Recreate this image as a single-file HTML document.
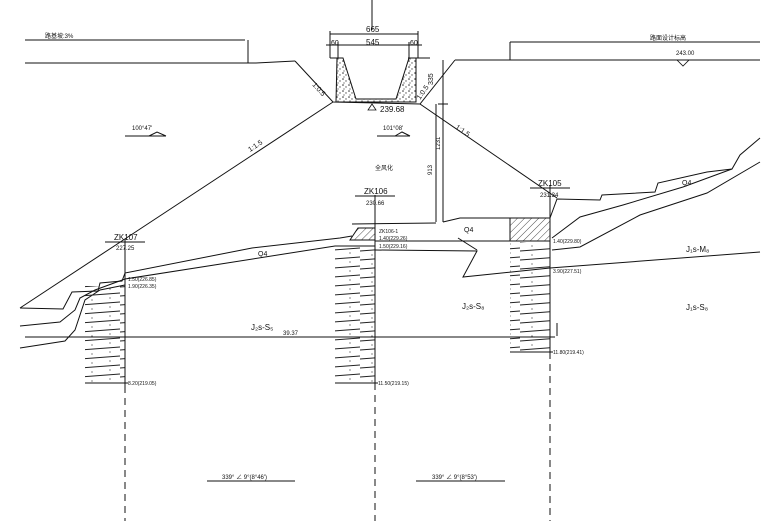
<!DOCTYPE html>
<html><head><meta charset="utf-8"><style>html,body{margin:0;padding:0;background:#fff}svg{display:block}</style></head>
<body>
<svg width="780" height="521" viewBox="0 0 780 521" xmlns="http://www.w3.org/2000/svg" font-family="Liberation Sans, 'Noto Sans CJK SC', sans-serif">
<defs>
<pattern id="sp" width="6" height="6" patternUnits="userSpaceOnUse"><rect width="6" height="6" fill="#fff"/><circle cx="1" cy="1" r="0.8" fill="#333"/><circle cx="4" cy="3" r="0.7" fill="#555"/><circle cx="2" cy="5" r="0.6" fill="#444"/></pattern>
<pattern id="dh" width="5" height="5" patternUnits="userSpaceOnUse" patternTransform="rotate(45)"><line x1="0" y1="0" x2="0" y2="5" stroke="#222" stroke-width="0.8"/></pattern>
<pattern id="bh" width="40" height="9" patternUnits="userSpaceOnUse"><line x1="0" y1="8" x2="40" y2="5" stroke="#222" stroke-width="0.9"/><circle cx="12" cy="3" r="0.6" fill="#333"/><circle cx="30" cy="1" r="0.6" fill="#333"/></pattern>
</defs>
<g stroke="#111" stroke-width="1" fill="none">
<!-- roads -->
<line x1="25" y1="40" x2="245" y2="40"/><line x1="248" y1="40" x2="248" y2="63"/>
<polyline points="25,63 256,63 295,61"/>
<line x1="510" y1="42" x2="760" y2="42"/><line x1="510" y1="42" x2="510" y2="60"/>
<polyline points="455,60 760,60"/>
<polygon points="677,60 689,60 683,66" stroke-width="0.8"/>
<!-- channel -->
<polyline points="295,61 333,102 420,104 455,60"/>
<line x1="330" y1="58" x2="340" y2="58"/><line x1="408" y1="58" x2="430" y2="58"/>
<polygon points="337,58 343,58 356,99 396,99 409,58 416,58 416,102 336,102" fill="url(#sp)"/>
<line x1="372" y1="0" x2="372" y2="30"/>
<line x1="330" y1="34" x2="418" y2="34"/><line x1="330" y1="31" x2="330" y2="58"/><line x1="418" y1="31" x2="418" y2="58"/>
<line x1="326" y1="45" x2="422" y2="45"/><line x1="338" y1="42" x2="338" y2="58"/><line x1="409" y1="42" x2="409" y2="58"/>
<polygon points="372,104 368,110 376,110" stroke-width="0.8"/>
<!-- big slopes -->
<line x1="333" y1="102" x2="20" y2="308"/>
<line x1="420" y1="104" x2="557" y2="198"/>
<line x1="443" y1="60" x2="443" y2="222"/><line x1="436" y1="104" x2="436" y2="222"/>
<line x1="438" y1="104" x2="448" y2="104"/>
<!-- arrows labels -->
<line x1="125" y1="136" x2="166" y2="136"/><polyline points="149,136 157,132 166,136"/>
<line x1="377" y1="136" x2="410" y2="136"/><polyline points="395,136 402,132 410,136"/>
<!-- ground -->
<polyline points="20,308 63,309 72,292 98,291 100,283 122,281 125,273 252,248 340,238 352,236"/>
<polyline points="20,326 60,322 75,310 80,298 95,290 125,279 335,246 375,246"/>
<polyline points="20,348 65,341 75,330 85,300 100,290 125,285"/>
<polyline points="352,224 436,223"/><polyline points="443,222 460,218 510,218"/>
<polyline points="375,241 550,241"/>
<polyline points="375,250 477,251 463,277 550,268 760,252"/>
<line x1="458" y1="238" x2="477" y2="250"/>
<polyline points="550,218 557,199 600,200 602,195 655,192 658,183 707,172 732,169 740,155 760,138"/>
<polyline points="552,238 580,217 623,205 683,187 732,169"/>
<polyline points="552,250 580,247 640,215 707,193 760,162"/>
<line x1="25" y1="337" x2="555" y2="337"/>
<!-- hatch boxes -->
<polygon points="358,228 375,228 375,240 350,240" fill="url(#dh)"/>
<rect x="510" y="218" width="40" height="23" fill="url(#dh)"/>
<!-- borehole columns -->
<rect x="85" y="286" width="40" height="97" fill="url(#bh)" stroke="none"/>
<rect x="335" y="247" width="40" height="136" fill="url(#bh)" stroke="none"/>
<rect x="510" y="242" width="40" height="110" fill="url(#bh)" stroke="none"/>
<!-- borehole axes -->
<line x1="125" y1="240" x2="125" y2="386"/><line x1="125" y1="386" x2="125" y2="521" stroke-dasharray="7,5"/>
<line x1="375" y1="195" x2="375" y2="383"/><line x1="375" y1="383" x2="375" y2="521" stroke-dasharray="7,5"/>
<line x1="550" y1="185" x2="550" y2="352"/><line x1="550" y1="352" x2="550" y2="521" stroke-dasharray="7,5"/>
<line x1="105" y1="242" x2="145" y2="242"/><line x1="355" y1="196" x2="395" y2="196"/><line x1="530" y1="188" x2="570" y2="188"/>
<line x1="85" y1="383" x2="128" y2="383"/><line x1="335" y1="383" x2="378" y2="383"/><line x1="510" y1="352" x2="553" y2="352"/>
<line x1="557" y1="323" x2="557" y2="336"/>
<!-- bottom -->
<line x1="207" y1="481" x2="295" y2="481"/><line x1="416" y1="481" x2="505" y2="481"/>
</g>
<g fill="#111" font-size="7">
<text x="45" y="38" font-size="6">路基坡:3%</text>
<text x="650" y="40" font-size="6">路面设计标高</text>
<text x="676" y="55" font-size="6">243.00</text>
<text x="366" y="32" font-size="8">665</text>
<text x="366" y="45" font-size="8">545</text>
<text x="331" y="45" font-size="7">60</text>
<text x="410" y="45" font-size="7">60</text>
<text x="380" y="112" font-size="8">239.68</text>
<text x="132" y="130" font-size="6">100°47'</text>
<text x="383" y="130" font-size="6">101°08'</text>
<text x="375" y="170" font-size="6">全风化</text>
<text x="250" y="152" font-size="7" transform="rotate(-33 250 152)">1:1.5</text>
<text x="455" y="128" font-size="7" transform="rotate(35 455 128)">1:1.5</text>
<text x="312" y="85" font-size="7" transform="rotate(48 312 85)">1:0.5</text>
<text x="420" y="100" font-size="7" transform="rotate(-55 420 100)">1:0.5</text>
<text x="433" y="85" font-size="7" transform="rotate(-90 433 85)">335</text>
<text x="432" y="175" font-size="6" transform="rotate(-90 432 175)">913</text>
<text x="440" y="150" font-size="6" transform="rotate(-90 440 150)">1231</text>
<text x="114" y="240" font-size="8">ZK107</text><text x="116" y="250" font-size="6">227.25</text>
<text x="364" y="194" font-size="8">ZK106</text><text x="366" y="205" font-size="6">230.66</text>
<text x="538" y="186" font-size="8">ZK105</text><text x="540" y="197" font-size="6">231.34</text>
<text x="379" y="233" font-size="5">ZK106-1</text>
<text x="379" y="240" font-size="5">1.40(229.26)</text>
<text x="379" y="248" font-size="5">1.50(229.16)</text>
<text x="378" y="385" font-size="5">11.50(219.15)</text>
<text x="128" y="281" font-size="5">1.50(226.85)</text>
<text x="128" y="288" font-size="5">1.90(226.35)</text>
<text x="128" y="385" font-size="5">8.20(219.05)</text>
<text x="553" y="243" font-size="5">1.40(229.80)</text>
<text x="553" y="273" font-size="5">3.90(227.51)</text>
<text x="553" y="354" font-size="5">11.80(219.41)</text>
<text x="258" y="256" font-size="7">Q4</text>
<text x="464" y="232" font-size="7">Q4</text>
<text x="682" y="185" font-size="7">Q4</text>
<text x="251" y="330" font-size="8">J₂s-S₅</text>
<text x="283" y="335" font-size="6">39.37</text>
<text x="462" y="309" font-size="8">J₂s-S₈</text>
<text x="686" y="252" font-size="8">J₁s-M₈</text>
<text x="686" y="310" font-size="8">J₁s-S₈</text>
<text x="222" y="479" font-size="6">339° ∠ 9°(8°46')</text>
<text x="432" y="479" font-size="6">339° ∠ 9°(8°53')</text>
</g>
</svg>
</body></html>
